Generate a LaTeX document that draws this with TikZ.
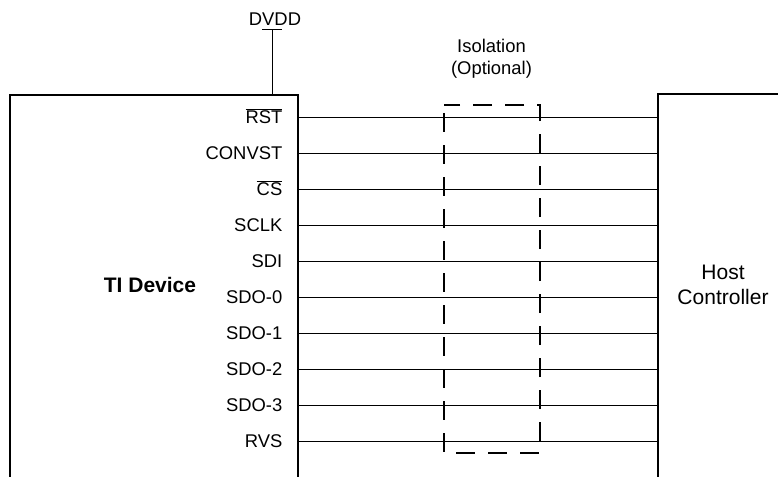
\documentclass[tikz,border=0pt]{standalone}
\usepackage{fontspec}
\setmainfont{Liberation Sans}
\newcommand{\olbar}[1]{$\overline{\mbox{#1}}$}
\begin{document}
\begin{tikzpicture}[x=1pt,y=-1pt,
  box/.style={draw=black,line width=2pt,anchor=north west,inner sep=0pt},
  pin/.style={anchor=base east,inner sep=0pt,font=\fontsize{18.4}{22}\selectfont},
  title/.style={inner sep=0pt,align=center,font=\fontsize{21}{25}\selectfont},
  sig/.style={line width=1pt},
  iso/.style={line width=2.2pt,dash pattern=on 19pt off 13pt}]
\useasboundingbox (0,0) rectangle (778,476);
\clip (0,0) rectangle (778,476);
% boxes
\node[box,minimum width=288pt,minimum height=390pt] (dev) at (9,94) {};
\node[box,minimum width=140pt,minimum height=390pt] (host) at (657,93.5) {};
\node[title,font=\fontsize{21}{25}\selectfont\bfseries] (devlbl) at (150,285) {TI Device};
\node[title,text depth=0pt] (hostlbl) at (723,284.5) {Host\\Controller};
% DVDD
\coordinate (vdd) at (272,30);
\coordinate (vddl) at (262,30);
\coordinate (vddr) at (282,30);
\coordinate (vddb) at (272,94);
\node[inner sep=0pt,font=\fontsize{18.4}{22}\selectfont,anchor=base] (dvdd) at (275,26) {DVDD};
\draw[sig] (vdd) -- (vddb);
\draw[sig] (vddl) -- (vddr);
% isolation
\node[inner sep=0pt,align=center,font=\fontsize{18.4}{22}\selectfont,anchor=base] (isol) at (491.5,75) {Isolation\\(Optional)};
\coordinate (isoA) at (444,105);
\coordinate (isoB) at (540,453);
\draw[iso,dash phase=-8pt] (isoA) rectangle (isoB);
% signals
\foreach \i/\t in {0/\olbar{RST},1/CONVST,2/\olbar{CS},3/SCLK,4/SDI,5/SDO-0,6/SDO-1,7/SDO-2,8/SDO-3,9/RVS}{
  \pgfmathsetmacro{\yy}{117+36*\i}
  \node[pin] (p\i) at (282.5,\yy+6.5) {\t};
  \coordinate (l\i) at (297,\yy);
  \coordinate (r\i) at (657,\yy);
  \draw[sig] (l\i) -- (r\i);
}
\end{tikzpicture}
\end{document}
